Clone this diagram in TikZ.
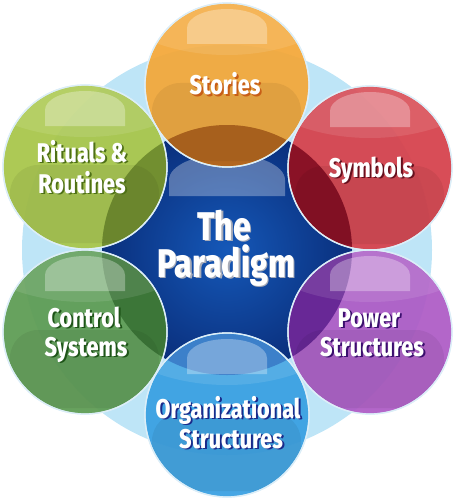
\documentclass[tikz,border=0pt]{standalone}
\usepackage{fontspec}
\newfontfamily\labfont{Fira Sans}[UprightFont=* ExtraBold, BoldFont=* ExtraBold, FakeStretch=0.8]
\definecolor{bgblue}{HTML}{BEE5F7}
\definecolor{coreIn}{HTML}{1558B8}
\definecolor{coreOut}{HTML}{0A2F7C}
\definecolor{cStories}{HTML}{F3A83A}
\definecolor{dStories}{HTML}{B2661F}
\definecolor{sStories}{HTML}{C85E16}
\definecolor{cRituals}{HTML}{A8C64A}
\definecolor{dRituals}{HTML}{728F30}
\definecolor{sRituals}{HTML}{4E7016}
\definecolor{cSymbols}{HTML}{D6424C}
\definecolor{dSymbols}{HTML}{8A1226}
\definecolor{sSymbols}{HTML}{66101E}
\definecolor{cControl}{HTML}{5E9C54}
\definecolor{dControl}{HTML}{3C7638}
\definecolor{sControl}{HTML}{1E5418}
\definecolor{cPower}{HTML}{AE5CC6}
\definecolor{dPower}{HTML}{682896}
\definecolor{sPower}{HTML}{3A0E6E}
\definecolor{cOrg}{HTML}{3AA0E2}
\definecolor{dOrg}{HTML}{2672C4}
\definecolor{sOrg}{HTML}{1A2A8A}
\definecolor{rimcol}{HTML}{DCEEF8}
\definecolor{shParadigm}{HTML}{A8ACB8}
\tikzset{
  ball/.style={circle, minimum size=164pt, inner sep=0pt, fill=#1, fill opacity=0.94, draw=rimcol, line width=1.3pt},
  lab/.style={font=\labfont\fontsize{27}{30}\selectfont, text=white, anchor=base, inner sep=0pt},
  biglab/.style={font=\labfont\fontsize{40}{40}\selectfont, text=white, anchor=base, inner sep=0pt},
}
% gloss overlays: cx cy
\newcommand\glossover[2]{%
  \begin{scope}
    \clip (#1,#2) circle (81pt);
    \fill[white, fill opacity=0.10] (#1,#2-130) ellipse (150pt and 100pt);
    \fill[black, fill opacity=0.06, rounded corners=28pt] (#1-75,#2-2) rectangle (#1+74,#2+76);
    \fill[white, fill opacity=0.30] (#1-40,#2-41) -- (#1-40,#2-57)
      arc[start angle=180, end angle=0, x radius=40pt, y radius=19pt] -- (#1+40,#2-41) -- cycle;
  \end{scope}}
% shadowed label in one node: name x y shadowcolor style text
\newcommand\shlabel[6]{%
  \node[#5] (#1) at (#2,#3) {\makebox[0pt][l]{\hspace{1.9pt}\raisebox{-1.9pt}{\textcolor{#4}{#6}}}#6};}
\begin{document}
\begin{tikzpicture}[x=1pt,y=-1pt]
\useasboundingbox (0,0) rectangle (455,500);
% background halo and core
\node[circle, minimum size=410pt, inner sep=0pt, fill=bgblue] (halo) at (227,250) {};
\node[circle, minimum size=250pt, inner sep=0pt, inner color=coreIn, outer color=coreOut] (core) at (227,250) {};
\begin{scope}
  \clip (227,250) circle (125pt);
  \fill[white, fill opacity=0.30] (169,196) -- (169,180)
    arc[start angle=180, end angle=0, x radius=58pt, y radius=26pt] -- (285,196) -- cycle;
\end{scope}
% outer balls
\node[ball=cStories] (stories) at (227,85) {};
\node[ball=cRituals] (rituals) at (85,167) {};
\node[ball=cSymbols] (symbols) at (370,168) {};
\node[ball=cControl] (control) at (85,332) {};
\node[ball=cPower] (power) at (370,332) {};
\node[ball=cOrg] (org) at (227,415) {};
% darker overlap with core
\begin{scope}
  \clip (227,250) circle (125pt);
  \fill[dStories] (227,85) circle (81pt);
  \fill[dRituals] (85,167) circle (81pt);
  \fill[dSymbols] (370,168) circle (81pt);
  \fill[dControl] (85,332) circle (81pt);
  \fill[dPower] (370,332) circle (81pt);
  \fill[dOrg] (227,415) circle (81pt);
\end{scope}
\glossover{227}{85}
\glossover{85}{167}
\glossover{370}{168}
\glossover{85}{332}
\glossover{370}{332}
\glossover{227}{415}
% rims on top
\foreach \cx/\cy in {227/85,85/167,370/168,85/332,370/332,227/415}
  \draw[rimcol, line width=1.3pt] (\cx,\cy) circle (82pt);
% labels
\shlabel{tStories}{225}{95}{sStories}{lab}{Stories}
\shlabel{tRitualsA}{82}{162}{sRituals}{lab}{Rituals \&}
\shlabel{tRitualsB}{82}{193}{sRituals}{lab}{Routines}
\shlabel{tSymbols}{371}{177}{sSymbols}{lab}{Symbols}
\shlabel{tControlA}{84}{327}{sControl}{lab}{Control}
\shlabel{tControlB}{86}{356}{sControl}{lab}{Systems}
\shlabel{tPowerA}{369}{327}{sPower}{lab}{Power}
\shlabel{tPowerB}{372}{356}{sPower}{lab}{Structures}
\shlabel{tOrgA}{228}{418}{sOrg}{lab}{Organizational}
\shlabel{tOrgB}{231}{448}{sOrg}{lab}{Structures}
\shlabel{tThe}{224}{240}{shParadigm}{biglab}{The}
\shlabel{tParadigm}{226}{277}{shParadigm}{biglab}{Paradigm}
\end{tikzpicture}
\end{document}
